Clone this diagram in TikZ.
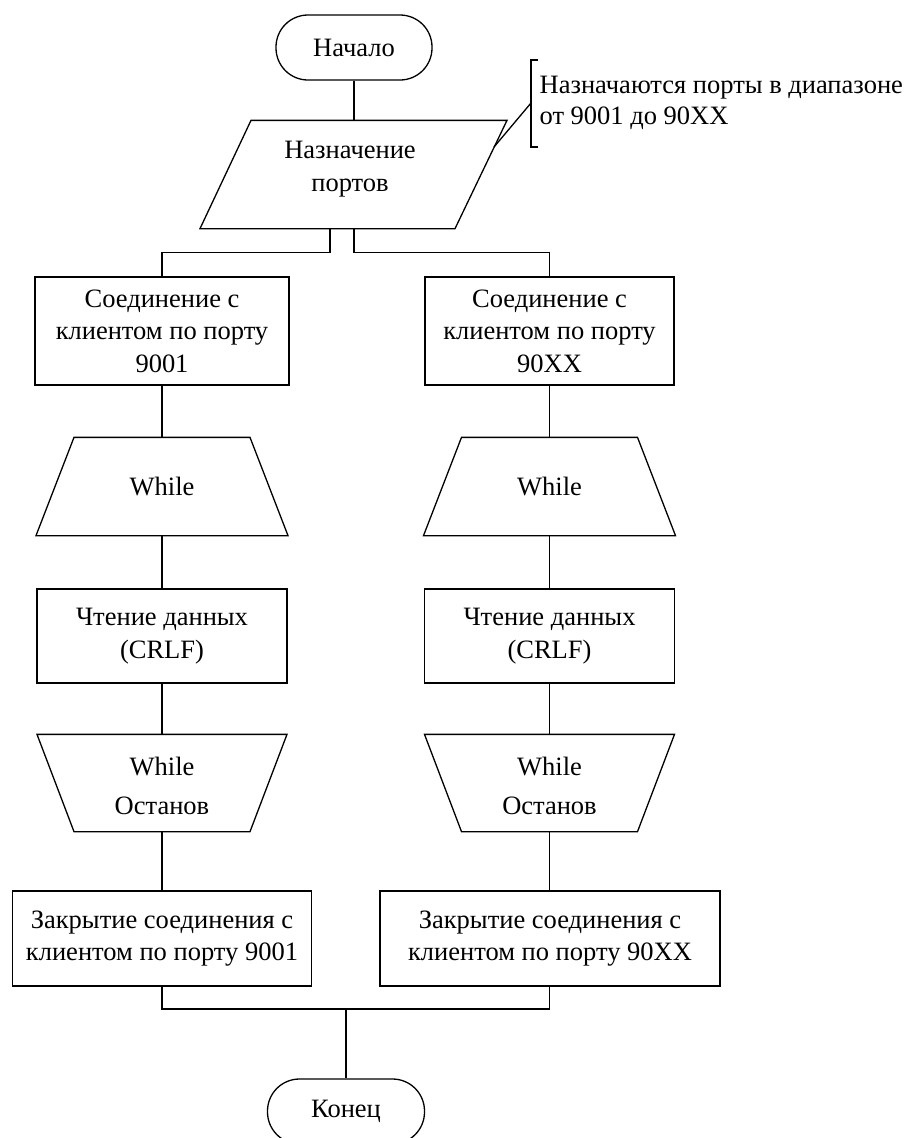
\documentclass[tikz,border=0pt]{standalone}
\usepackage{fontspec}
\setmainfont{Liberation Serif}
\begin{document}
\begin{tikzpicture}[x=1pt,y=-1pt,line width=1.3pt,
  txt/.style={align=center,font=\fontsize{26.5}{32.5}\selectfont,inner sep=0pt},
  box/.style={draw,rectangle,txt},
  term/.style={draw,rectangle,rounded corners=32pt,txt,minimum width=156pt,minimum height=65pt},
  shp/.style={inner sep=0pt,minimum width=1pt},
  wire/.style={draw,line width=1.3pt}]
\useasboundingbox (0,0) rectangle (908,1138);
\clip (0,0) rectangle (908,1138);

% start
\node[term] (start) at (354,47.5) {Начало};

% assignment parallelogram
\node[shp,minimum height=107pt] (assign) at (354,174.5) {};
\draw ([xshift=-103pt]assign.north) -- ([xshift=153pt]assign.north)
      -- ([xshift=101pt]assign.south) -- ([xshift=-154pt]assign.south) -- cycle;
\node[txt] (assigntxt) at (350,169) {Назначение\\портов};
\coordinate (aL) at ([xshift=-24pt]assign.south);
\coordinate (aR) at (assign.south);
\coordinate (aE) at (494,147);

% note
\coordinate (brk) at (531,103);
\draw (538,60) -- (531,60) -- (531,147) -- (538,147);
\node[txt,align=left,anchor=west,font=\fontsize{26.5}{31}\selectfont] (note) at (539,103)
  {Назначаются порты в диапазоне\\от 9001 до 90XX};

% connect boxes
\node[box,minimum width=254pt,minimum height=108pt] (c1) at (162,331)
  {Соединение с\\клиентом по порту\\9001};
\node[box,minimum width=249pt,minimum height=108pt] (c2) at (549.5,331)
  {Соединение с\\клиентом по порту\\90XX};

% while top
\node[shp,minimum height=97pt] (w1) at (162,486.5) {};
\node[txt] at (w1) {While};
\draw ([xshift=-88pt]w1.north) -- ([xshift=88pt]w1.north)
      -- ([xshift=126pt]w1.south) -- ([xshift=-126pt]w1.south) -- cycle;
\node[shp,minimum height=97pt] (w2) at (549.5,486.5) {};
\node[txt] at (w2) {While};
\draw ([xshift=-88pt]w2.north) -- ([xshift=88pt]w2.north)
      -- ([xshift=126pt]w2.south) -- ([xshift=-126pt]w2.south) -- cycle;

% read
\node[box,minimum width=250pt,minimum height=94pt] (r1) at (162,636)
  {Чтение данных\\(CRLF)};
\node[box,minimum width=250pt,minimum height=94pt] (r2) at (549.5,636)
  {Чтение данных\\(CRLF)};

% while stop
\node[shp,minimum height=96pt] (s1) at (162,783) {};
\node[txt,font=\fontsize{26.5}{39}\selectfont] at (162,785.5) {While\\Останов};
\draw ([xshift=-125pt]s1.north) -- ([xshift=125pt]s1.north)
      -- ([xshift=88pt]s1.south) -- ([xshift=-88pt]s1.south) -- cycle;
\node[shp,minimum height=96pt] (s2) at (549.5,783) {};
\node[txt,font=\fontsize{26.5}{39}\selectfont] at (549.5,785.5) {While\\Останов};
\draw ([xshift=-125pt]s2.north) -- ([xshift=125pt]s2.north)
      -- ([xshift=88pt]s2.south) -- ([xshift=-88pt]s2.south) -- cycle;

% close
\node[box,minimum width=299pt,minimum height=95pt] (z1) at (162,938.5)
  {Закрытие соединения с\\клиентом по порту 9001};
\node[box,minimum width=340pt,minimum height=95pt] (z2) at (550,938.5)
  {Закрытие соединения с\\клиентом по порту 90XX};

% end
\node[term,minimum width=157pt] (end) at (346,1111.5) {Конец};
\coordinate (mg) at (346,1009);

% connectors
\draw[wire] (start.south) -- (assign.north);
\draw[wire] (brk) -- (aE);
\draw[wire] (aL) |- ([yshift=-24pt]aL) -| (c1.north);
\draw[wire] (aR) |- ([yshift=-24pt]aR) -| (c2.north);
\draw[wire] (c1.south) -- (w1.north);
\draw[wire] (c2.south) -- (w2.north);
\draw[wire] (w1.south) -- (r1.north);
\draw[wire] (w2.south) -- (r2.north);
\draw[wire] (r1.south) -- (s1.north);
\draw[wire] (r2.south) -- (s2.north);
\draw[wire] (s1.south) -- (s1.south |- z1.north);
\draw[wire] (s2.south) -- (s2.south |- z2.north);
\draw[wire] (z1.south -| s1.south) |- (mg);
\draw[wire] (z2.south -| s2.south) |- (mg);
\draw[wire] (mg) -- (end.north);
\end{tikzpicture}
\end{document}
